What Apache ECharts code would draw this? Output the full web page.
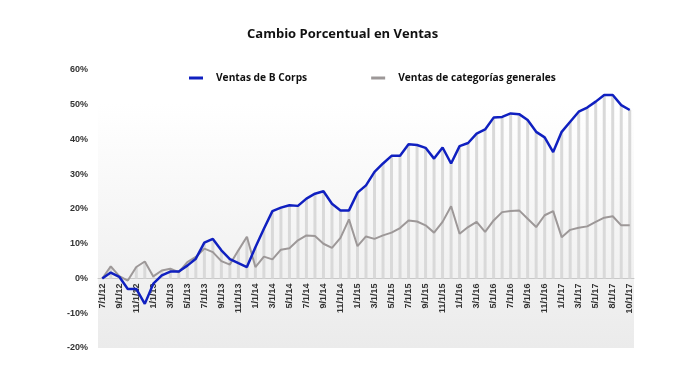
<!DOCTYPE html>
<html>
<head>
<meta charset="utf-8">
<script src="https://cdn.jsdelivr.net/npm/echarts@6/dist/echarts.min.js"></script>
<style>
html,body{margin:0;padding:0;background:#fff;}
#chart{width:700px;height:392px;}
</style>
</head>
<body>
<div id="chart"></div>
<script>
var categories = [
  '7/1/12','8/1/12','9/1/12','10/1/12','11/1/12','12/1/12',
  '1/1/13','2/1/13','3/1/13','4/1/13','5/1/13','6/1/13','7/1/13','8/1/13','9/1/13','10/1/13','11/1/13','12/1/13',
  '1/1/14','2/1/14','3/1/14','4/1/14','5/1/14','6/1/14','7/1/14','8/1/14','9/1/14','10/1/14','11/1/14','12/1/14',
  '1/1/15','2/1/15','3/1/15','4/1/15','5/1/15','6/1/15','7/1/15','8/1/15','9/1/15','10/1/15','11/1/15','12/1/15',
  '1/1/16','2/1/16','3/1/16','4/1/16','5/1/16','6/1/16','7/1/16','8/1/16','9/1/16','10/1/16','11/1/16','12/1/16',
  '1/1/17','2/1/17','3/1/17','4/1/17','5/1/17','7/1/17','8/1/17','9/1/17','10/1/17'
];
var bCorps = [
  0, 1.7, 0.5, -3.0, -3.0, -7.3, -1.5, 0.9, 2.0, 2.0,
  3.7, 5.7, 10.3, 11.4, 8.1, 5.6, 4.4, 3.3, 9.0, 14.3,
  19.4, 20.4, 21.1, 20.9, 23.0, 24.4, 25.1, 21.5, 19.6, 19.6,
  24.7, 26.8, 30.7, 33.1, 35.3, 35.3, 38.6, 38.4, 37.6, 34.5,
  37.7, 33.1, 38.1, 39.0, 41.7, 42.9, 46.3, 46.5, 47.5, 47.3,
  45.6, 42.2, 40.6, 36.4, 42.2, 45.1, 48.0, 49.2, 50.9, 52.8,
  52.8, 49.9, 48.5
];
var generales = [
  0, 3.5, 0.7, -0.6, 3.3, 4.9, 0.6, 2.3, 2.8, 1.8,
  4.7, 6.2, 8.6, 7.6, 5.0, 4.0, 8.1, 12.0, 3.3, 6.3,
  5.5, 8.3, 8.7, 11.0, 12.4, 12.2, 10.0, 8.8, 11.7, 17.0,
  9.3, 12.1, 11.4, 12.4, 13.2, 14.5, 16.7, 16.4, 15.3, 13.2,
  16.3, 20.8, 12.9, 14.8, 16.3, 13.4, 16.7, 19.1, 19.4, 19.6,
  17.2, 14.8, 18.2, 19.4, 11.9, 14.0, 14.6, 15.0, 16.3, 17.5,
  17.9, 15.3, 15.3
];
var seriesNames = ['Ventas de B Corps', 'Ventas de categorías generales'];
var dropLines = bCorps.map(function (v, i) { return Math.max(v, generales[i]); });

var chart = echarts.init(document.getElementById('chart'), null, {renderer: 'canvas'});
chart.setOption({
  animation: false,
  backgroundColor: '#ffffff',
  title: {
    text: 'Cambio Porcentual en Ventas',
    left: 242, top: 23,
    textStyle: {fontFamily: 'Open Sans', fontWeight: 'bold', fontSize: 13, color: '#111'}
  },
  legend: {
    data: seriesNames,
    left: 184, top: 68,
    itemGap: 64,
    itemWidth: 14, itemHeight: 3,
    icon: 'rect',
    textStyle: {fontFamily: 'Open Sans', fontWeight: 'bold', fontSize: 10.2, color: '#111', padding: [0, 0, 0, 8]}
  },
  grid: {
    left: 98, right: 66, top: 70, bottom: 44,
    show: true, borderWidth: 0,
    backgroundColor: {
      type: 'linear', x: 0, y: 0, x2: 0, y2: 1,
      colorStops: [{offset: 0, color: '#ffffff'}, {offset: 0.12, color: '#ffffff'}, {offset: 1, color: '#ebebeb'}]
    }
  },
  xAxis: {
    type: 'category',
    data: categories,
    boundaryGap: true,
    position: 'bottom',
    offset: -69.5,
    axisLine: {onZero: false, lineStyle: {color: '#c8c8c8', width: 1}},
    axisTick: {show: false},
    splitLine: {show: false},
    axisLabel: {
      rotate: 90, interval: 1, margin: 5,
      fontFamily: 'Liberation Sans', fontWeight: 'bold', fontSize: 9, color: '#333'
    }
  },
  yAxis: {
    type: 'value',
    min: -20, max: 60, interval: 10,
    axisLine: {show: false},
    axisTick: {show: false},
    splitLine: {show: false},
    axisLabel: {
      formatter: '{value}%', margin: 10,
      fontFamily: 'Liberation Sans', fontWeight: 'bold', fontSize: 9, color: '#333'
    }
  },
  series: [
    {
      name: 'drop', type: 'bar', data: dropLines, barWidth: 3,
      itemStyle: {color: '#d9d9d9'}, silent: true, z: 1
    },
    {
      name: seriesNames[1], type: 'line', data: generales,
      symbol: 'none', lineStyle: {color: '#9d9898', width: 2},
      itemStyle: {color: '#9d9898'}, z: 3
    },
    {
      name: seriesNames[0], type: 'line', data: bCorps,
      symbol: 'none', lineStyle: {color: '#1020c0', width: 2.5},
      itemStyle: {color: '#1020c0'}, z: 4
    }
  ]
});
</script>
</body>
</html>
